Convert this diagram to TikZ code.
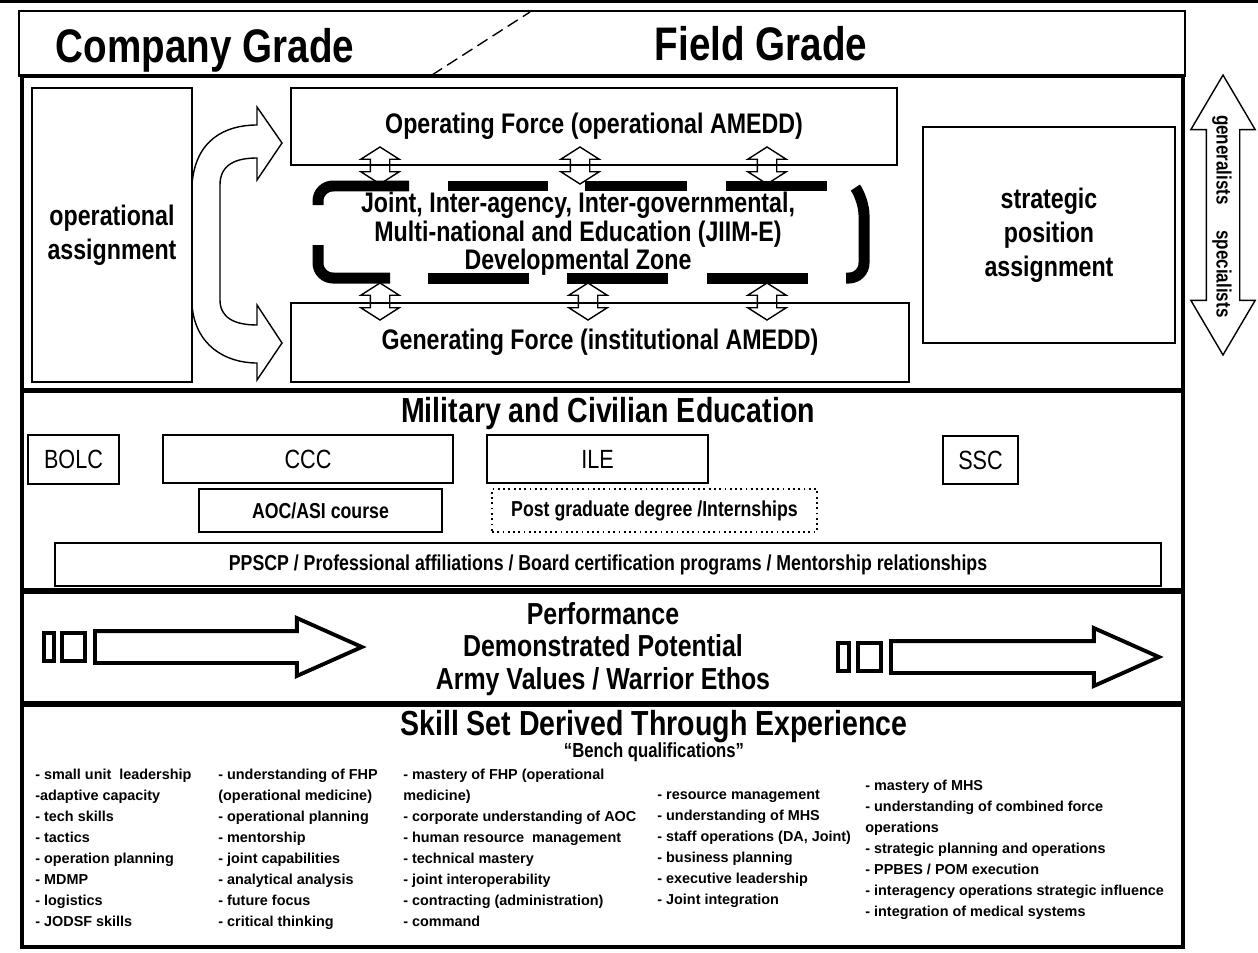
\documentclass[tikz,border=0pt]{standalone}
\usepackage{fontspec}
\setmainfont{Liberation Sans}
\newfontfamily\narrow{Liberation Sans}[FakeStretch=0.82]
\usetikzlibrary{positioning,shapes.arrows}

\begin{document}
\begin{tikzpicture}[
		x=0.02cm, y=-0.02cm,
		block/.style={draw, line width=1pt, align=center, inner sep=0pt},
		frame/.style={draw, line width=2.2pt},
		bigtext/.style={font=\narrow\fontsize{26.8}{30}\selectfont\bfseries},
		sectitle/.style={font=\narrow\fontsize{19.8}{22}\selectfont\bfseries},
		lbl/.style={font=\narrow\fontsize{16.1}{19.3}\selectfont\bfseries, align=center},
		perftext/.style={font=\narrow\fontsize{17.3}{18.4}\selectfont\bfseries, align=center},
		course/.style={font=\narrow\fontsize{12.3}{14}\selectfont\bfseries},
		eduplain/.style={font=\narrow\fontsize{15}{17}\selectfont},
		skills/.style={font=\fontsize{8.2}{11.9}\selectfont\bfseries, align=left, anchor=north west, inner sep=0pt},
		dblarrow/.style={draw, line width=0.8pt, double arrow, rotate=90, inner xsep=0pt, inner ysep=0.18cm, minimum height=0.74cm, double arrow head extend=0.19cm, double arrow tip angle=115},
		fatarrow/.style={draw, line width=2.2pt, single arrow, anchor=tail, inner xsep=0pt, inner ysep=0.28cm, single arrow head extend=0.26cm, single arrow tip angle=48},
		zone/.style={line width=0.22cm, rounded corners=0.3cm},
	]
		\useasboundingbox (0,0) rectangle (1258,953);
		\fill (0,0) rectangle (1258,3);

		% grade header
		\draw[line width=1pt] (19,11) rectangle (1185,76);
		\node (company) [bigtext] at (205,50) {Company Grade};
		\node (field) [bigtext] at (761,44) {Field Grade};
		\coordinate (split1) at (432,75);
		\coordinate (split2) at (530,12);
		\draw[line width=0.8pt, dash pattern=on 0.24cm off 0.12cm] (split1) -- (split2);

		% sections
		\draw[frame] (22,76) rectangle (1183,390);
		\draw[frame] (22,391) rectangle (1183,590);
		\draw[frame] (22,592) rectangle (1183,703);
		\draw[frame] (22,705) rectangle (1183,947);

		% assignments
		\node (opassign) [block, lbl, minimum width=3.2cm, minimum height=5.88cm] at (112,235) {operational\\assignment};
		\node (opforce) [block, lbl, minimum width=12.12cm, minimum height=1.54cm] at (594,126.5) {\raisebox{-3pt}{Operating Force (operational AMEDD)}};
		\node (genforce) [block, lbl, minimum width=12.36cm, minimum height=1.58cm] at (600,342.5) {\raisebox{-2pt}{Generating Force (institutional AMEDD)}};
		\node (strategic) [block, lbl, minimum width=5.04cm, minimum height=4.32cm] at (1049,235) {strategic\\position\\assignment};

		\draw[line width=0.8pt] (192,185) .. controls (195,140) and (225,125) .. (257,125) -- (257,107) -- (282,143) -- (257,180) -- (257,158)
			.. controls (235,158) and (220,165) .. (220,185) -- (220,300) .. controls (220,318) and (235,325) .. (257,325)
			-- (257,305) -- (282,343) -- (257,380) -- (257,363) .. controls (225,363) and (195,345) .. (192,305);

		% JIIM-E zone
		\draw[zone] (409,186) -- (318,186) -- (318,205);
		\draw[zone] (318,245) -- (318,278) -- (390,278);
		\draw[zone] (857,190) -- (864,200) -- (864,278) -- (846,278);
		\foreach \a/\b in {448/548, 585/687, 726/827}
			\draw[line width=0.22cm] (\a,186) -- (\b,186);
		\foreach \a/\b in {428/529, 567/668, 707/808}
			\draw[line width=0.22cm] (\a,278) -- (\b,278);
		\node (jiim) [lbl, font=\narrow\fontsize{16.1}{16.2}\selectfont\bfseries] at (578,234) {Joint, Inter-agency, Inter-governmental,\\Multi-national and Education (JIIM-E)\\Developmental Zone};

		\foreach \x [count=\i] in {380,580,767}
			\node (up\i) [dblarrow] at (\x,165.5) {};
		\foreach \x [count=\i] in {380,588,767}
			\node (dn\i) [dblarrow] at (\x,301.5) {};

		% generalists / specialists
		\node (spectrum) [dblarrow, inner ysep=0.32cm, minimum height=5.6cm, double arrow head extend=0.31cm, double arrow tip angle=61] at (1223,215) {};
		\node (gen) [font=\narrow\fontsize{11.8}{13}\selectfont\bfseries, rotate=-90] at (1222,160) {generalists};
		\node (spec) [font=\narrow\fontsize{11.8}{13}\selectfont\bfseries, rotate=-90] at (1222,274) {specialists};

		% education
		\node (milciv) [sectitle] at (608,414) {Military and Civilian Education};
		\node (bolc) [block, eduplain, minimum width=1.82cm, minimum height=0.98cm] at (73.5,459.5) {BOLC};
		\node (ccc) [block, eduplain, minimum width=5.8cm, minimum height=0.96cm] at (308,459) {CCC};
		\node (ile) [block, eduplain, minimum width=4.42cm, minimum height=0.96cm] at (597.5,459) {ILE};
		\node (ssc) [block, eduplain, minimum width=1.5cm, minimum height=0.96cm] at (980.5,460) {SSC};
		\node (aoc) [block, course, minimum width=4.86cm, minimum height=0.86cm] at (320.5,510.5) {AOC/ASI course};
		\node (pgd) [block, course, dotted, line width=0.8pt, minimum width=6.5cm, minimum height=0.86cm] at (654.5,510.5) {Post graduate degree /Internships};
		\node (ppscp) [block, course, minimum width=22.12cm, minimum height=0.86cm] at (608,564.5) {PPSCP / Professional affiliations / Board certification programs / Mentorship relationships};

		% performance
		\node (perf) [perftext] at (603,649) {Performance\\Demonstrated Potential\\Army Values / Warrior Ethos};
		\draw[line width=2.2pt] (44,633) rectangle (54,661) (62,633) rectangle (85,661);
		\node (growl) [fatarrow, minimum height=5.34cm] at (93,647) {};
		\draw[line width=2.2pt] (838,643) rectangle (849,671) (858,643) rectangle (881,671);
		\node (growr) [fatarrow, minimum height=5.36cm] at (889,657) {};

		% skills
		\node (skillset) [sectitle] at (654,727) {Skill Set Derived Through Experience};
		\node (bench) [font=\narrow\fontsize{11.6}{13}\selectfont\bfseries] at (654,752) {“Bench qualifications”};
		\node (col1) [skills] at (35,769) {- small unit\ \ leadership\\-adaptive capacity\\- tech skills\\- tactics\\- operation planning\\- MDMP\\- logistics\\- JODSF skills};
		\node (col2) [skills] at (218,769) {- understanding of FHP\\(operational medicine)\\- operational planning\\- mentorship\\- joint capabilities\\- analytical analysis\\- future focus\\- critical thinking};
		\node (col3) [skills] at (403,769) {- mastery of FHP (operational\\medicine)\\- corporate understanding of AOC\\- human resource\ \ management\\- technical mastery\\- joint interoperability\\- contracting (administration)\\- command};
		\node (col4) [skills] at (657,790) {- resource management\\- understanding of MHS\\- staff operations (DA, Joint)\\- business planning\\- executive leadership\\- Joint integration};
		\node (col5) [skills] at (865,780) {- mastery of MHS\\- understanding of combined force\\operations\\- strategic planning and operations\\- PPBES / POM execution\\- interagency operations strategic influence\\- integration of medical systems};
	\end{tikzpicture}
\end{document}
